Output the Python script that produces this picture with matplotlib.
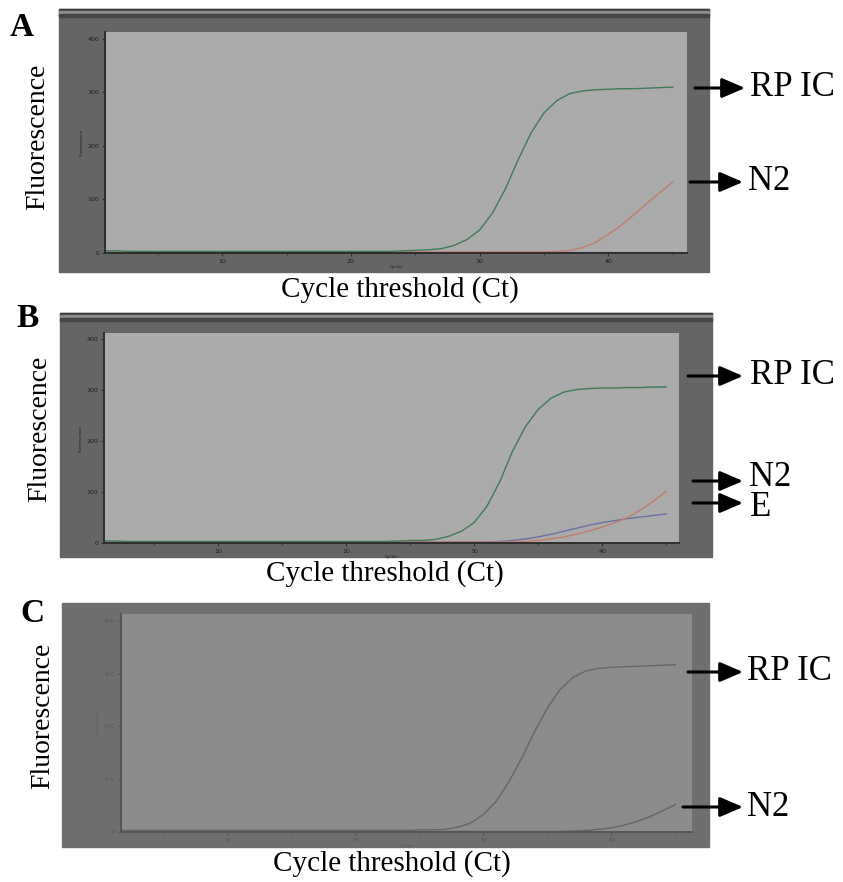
import matplotlib.pyplot as plt
from matplotlib.patches import Rectangle, FancyArrowPatch

# cycle numbers and fluorescence
cycles = list(range(1, 46))

a_rpic = [4, 4, 3, 3, 3, 3, 3, 3, 3, 3, 3, 3, 3, 3, 3, 3, 3, 3, 3, 3,
          3, 3, 3, 4, 5, 6, 8, 14, 25, 43, 75, 120, 175, 225, 262, 285, 298, 303, 305, 306,
          307, 307, 308, 309, 310]
a_n2 = [2, 2, 2, 2, 2, 2, 2, 2, 2, 2, 2, 2, 2, 2, 2, 2, 2, 2, 2, 2,
        2, 2, 2, 2, 2, 2, 2, 2, 2, 2, 2, 2, 2, 2, 2, 3, 5, 10, 20, 35,
        52, 72, 93, 113, 133]
a_e = [1] * 45

b_rpic = [4, 4, 3, 3, 3, 3, 3, 3, 3, 3, 3, 3, 3, 3, 3, 3, 3, 3, 3, 3,
          3, 3, 3, 4, 5, 5, 7, 13, 23, 40, 72, 120, 180, 228, 262, 284, 296, 301, 303, 304,
          304, 305, 305, 306, 306]
b_n2 = [2, 2, 2, 2, 2, 2, 2, 2, 2, 2, 2, 2, 2, 2, 2, 2, 2, 2, 2, 2,
        2, 2, 2, 2, 2, 2, 2, 2, 2, 2, 2, 2, 2, 3, 5, 8, 12, 17, 24, 31,
        40, 50, 65, 82, 101]
b_e = [2, 2, 2, 2, 2, 2, 2, 2, 2, 2, 2, 2, 2, 2, 2, 2, 2, 2, 2, 2,
       2, 2, 2, 2, 2, 2, 2, 2, 2, 2, 2, 3, 5, 8, 12, 17, 23, 29, 35, 40,
       44, 48, 51, 54, 57]

c_rpic = [3, 3, 3, 3, 3, 3, 3, 3, 3, 3, 3, 3, 3, 3, 3, 3, 3, 3, 3, 3,
          3, 3, 3, 3, 4, 4, 5, 9, 17, 33, 58, 95, 140, 190, 235, 270, 293, 305, 310, 312,
          313, 314, 315, 316, 317]
c_n2 = [1, 1, 1, 1, 1, 1, 1, 1, 1, 1, 1, 1, 1, 1, 1, 1, 1, 1, 1, 1,
        1, 1, 1, 1, 1, 1, 1, 1, 1, 1, 1, 1, 1, 1, 1, 1, 2, 3, 5, 8,
        13, 20, 29, 40, 52]

yticks = [0, 100, 200, 300, 400]
xticks = [10, 20, 30, 40]

W, H = 843, 882
fig = plt.figure(figsize=(W / 100, H / 100), dpi=100)
serif = 'Liberation Serif'


def rect_px(x0, y0, x1, y1):
    return [x0 / W, 1 - y1 / H, (x1 - x0) / W, (y1 - y0) / H]


def frame(x0, y0, x1, y1, color, strip):
    fig.patches.append(Rectangle((x0 / W, 1 - y1 / H), (x1 - x0) / W, (y1 - y0) / H,
                                 transform=fig.transFigure, color=color, zorder=-5))
    if strip:
        for a, b, c in [(y0, y0 + 2.5, '#3e3e3e'), (y0 + 2.5, y0 + 4.5, '#8c8c8c'),
                        (y0 + 4.5, y0 + 8, '#454545')]:
            fig.patches.append(Rectangle((x0 / W, 1 - b / H), (x1 - x0) / W, (b - a) / H,
                                         transform=fig.transFigure, color=c, zorder=-4))


def arrow(x0, x1, y, label, tx, ty=None):
    fig.patches.append(FancyArrowPatch((x0 / W, 1 - y / H), (x1 / W, 1 - y / H),
                                       transform=fig.transFigure,
                                       arrowstyle='-|>,head_length=14,head_width=6',
                                       mutation_scale=1, lw=2.2, color='black',
                                       shrinkA=0, shrinkB=0))
    fig.text(tx / W, 1 - (ty if ty else y) / H, label, family=serif, fontsize=25,
             ha='left', va='center')


def panel(pos, xlim, ylim, series, face, tickc, axc):
    ax = fig.add_axes(pos)
    ax.set_facecolor(face)
    for x, c in series:
        ax.plot(cycles, x, color=c, lw=1.0)
    ax.set_xlim(xlim)
    ax.set_ylim(ylim)
    ax.set_xticks(xticks)
    ax.set_yticks(yticks)
    ax.set_xticks([5, 15, 25, 35, 45], minor=True)
    ax.set_yticks([50, 150, 250, 350], minor=True)
    ax.tick_params(labelsize=4.5, labelcolor=tickc, color=axc, length=2.5, width=0.8, pad=1.5)
    ax.tick_params(which='minor', length=1.5, width=0.6, color=axc)
    for s in ['top', 'right']:
        ax.spines[s].set_visible(False)
    for s in ['left', 'bottom']:
        ax.spines[s].set_color(axc)
        ax.spines[s].set_linewidth(1.4)
    ax.set_xlabel('Cycles', fontsize=3, color=tickc, labelpad=1)
    ax.set_ylabel('Fluorescence', fontsize=3, color=tickc, labelpad=3)
    return ax


green = '#3f7b58'
red = '#c47c6c'
blue = '#6b6fa6'

# panel A
frame(59, 9, 709, 272, '#656565', True)
panel(rect_px(105, 32, 687, 253), (0.9, 46.1), (0, 413),
      [(a_e, blue), (a_n2, red), (a_rpic, green)], '#ababab', '#1e1e1e', '#2e2e2e')
fig.text(22 / W, 1 - 28 / H, 'A', family=serif, fontsize=24, weight='bold', ha='center', va='center')
fig.text(38 / W, 1 - 137 / H, 'Fluorescence', family=serif, fontsize=20, rotation=90,
         ha='center', va='center')
fig.text(400 / W, 1 - 290 / H, 'Cycle threshold (Ct)', family=serif, fontsize=21,
         ha='center', va='center')
arrow(695, 745, 88, 'RP IC', 750)
arrow(690, 743, 182, 'N2', 748)

# panel B
frame(60, 313, 712, 557, '#656565', True)
panel(rect_px(104, 333, 679, 543), (1.1, 46.0), (0, 412),
      [(b_e, blue), (b_n2, red), (b_rpic, green)], '#ababab', '#1e1e1e', '#2e2e2e')
fig.text(28 / W, 1 - 319 / H, 'B', family=serif, fontsize=24, weight='bold', ha='center', va='center')
fig.text(40 / W, 1 - 429 / H, 'Fluorescence', family=serif, fontsize=20, rotation=90,
         ha='center', va='center')
fig.text(385 / W, 1 - 574 / H, 'Cycle threshold (Ct)', family=serif, fontsize=21,
         ha='center', va='center')
arrow(688, 743, 376, 'RP IC', 750)
arrow(693, 743, 481, 'N2', 749, 477)
arrow(693, 743, 503, 'E', 750, 508)

# panel C (greyscale screenshot)
frame(62, 603, 709, 847, '#6f6f6f', False)
panel(rect_px(121, 614, 692, 832), (1.7, 46.3), (0, 413),
      [(c_n2, '#666666'), (c_rpic, '#666666')], '#8c8c8c', '#5a5a5a', '#555555')
fig.text(32 / W, 1 - 614 / H, 'C', family=serif, fontsize=24, weight='bold', ha='center', va='center')
fig.text(43 / W, 1 - 716 / H, 'Fluorescence', family=serif, fontsize=20, rotation=90,
         ha='center', va='center')
fig.text(392 / W, 1 - 864 / H, 'Cycle threshold (Ct)', family=serif, fontsize=21,
         ha='center', va='center')
arrow(688, 743, 672, 'RP IC', 747)
arrow(683, 743, 807, 'N2', 747)

fig.savefig('out.png', dpi=100, facecolor='white')
